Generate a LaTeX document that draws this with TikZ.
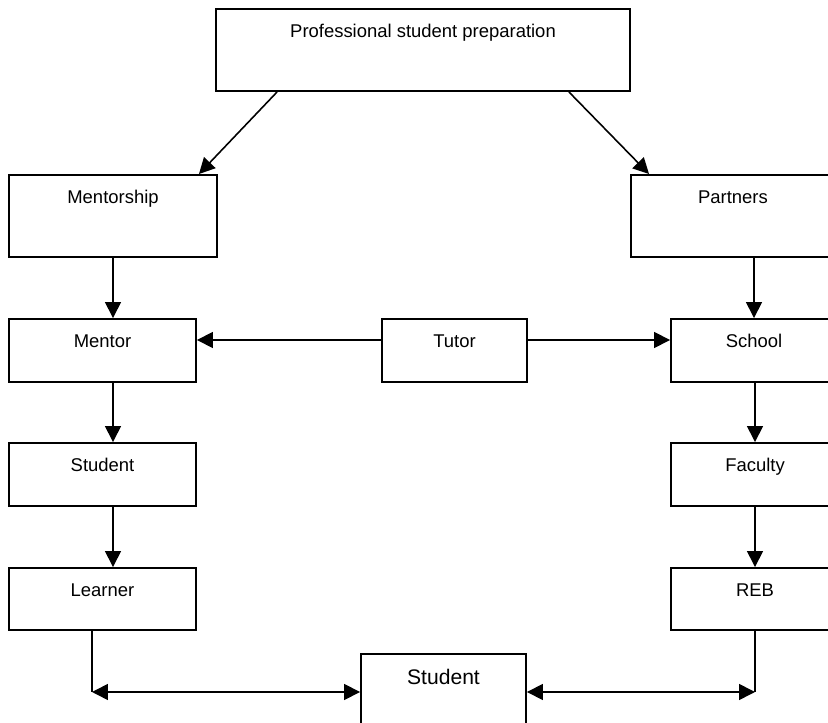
\documentclass[tikz,border=0pt]{standalone}
\usepackage{fontspec}
\setmainfont{Liberation Sans}
\usepackage{tikz}
\usetikzlibrary{arrows.meta, calc}
\tikzset{
	box/.style={draw, line width=1.1pt, inner sep=0pt, text height=0.58cm, font=\fontsize{10.5}{12}\selectfont},
	tallbox/.style={box, text depth=1.06cm},
	shortbox/.style={box, text depth=0.68cm},
	arrow/.style={line width=0.9pt, -{Triangle[length=9pt, width=9pt]}},
	biarrow/.style={line width=0.9pt, {Triangle[length=9pt, width=9pt]}-{Triangle[length=9pt, width=9pt]}},
	link/.style={line width=0.9pt},
}

\begin{document}
\begin{tikzpicture}[x=0.02cm, y=0.02cm]
% Frame
		\clip (0,0) rectangle (828,723);

% Top level
		\node[tallbox, minimum width=8.28cm] (prep) at (423,673) {Professional student preparation};
		\node[tallbox, minimum width=4.16cm] (mentorship) at (113,507) {Mentorship};
		\node[tallbox, minimum width=4.08cm] (partners) at (733,507) {Partners};

		\draw[arrow] ($(prep.south west)+(62,0)$) -- ($(mentorship.north east)+(-19,0)$);
		\draw[arrow] ($(prep.south east)+(-62,0)$) -- ($(partners.north west)+(19,0)$);

% Left column
		\node[shortbox, minimum width=3.74cm] (mentor) at (102.5,372.5) {Mentor};
		\node[shortbox, minimum width=3.74cm] (student) at (102.5,248.5) {Student};
		\node[shortbox, minimum width=3.74cm, text depth=0.66cm] (learner) at (102.5,124) {Learner};

		\draw[arrow] (mentorship.south) -- (mentorship.south |- mentor.north);
		\draw[arrow] ([xshift=2.1mm]mentor.south) -- ([xshift=2.1mm]student.north);
		\draw[arrow] ([xshift=2.1mm]student.south) -- ([xshift=2.1mm]learner.north);

% Middle
		\node[shortbox, minimum width=2.9cm] (tutor) at (454.5,372.5) {Tutor};

% Right column
		\node[shortbox, minimum width=3.32cm] (school) at (754,372.5) {School};
		\node[shortbox, minimum width=3.36cm] (faculty) at (755,248.5) {Faculty};
		\node[shortbox, minimum width=3.36cm, text depth=0.66cm] (reb) at (755,124) {REB};

		\draw[arrow] (school.north |- partners.south) -- (school.north);
		\draw[arrow] (school.south -| faculty.north) -- (faculty.north);
		\draw[arrow] (faculty.south) -- (reb.north);

		\draw[arrow] ([yshift=2.1mm]tutor.west) -- ([yshift=2.1mm]tutor.west -| mentor.east);
		\draw[arrow] ([yshift=2.1mm]tutor.east) -- ([yshift=2.1mm]tutor.east -| school.west);

% Bottom
		\node[box, minimum width=3.3cm, text height=0.62cm, text depth=1.02cm, font=\fontsize{12}{14}\selectfont] (student2) at (443.5,28) {Student};

		\coordinate (lb) at ([xshift=-2.1mm]learner.south);
		\coordinate (cl) at ([yshift=0.6mm]lb |- student2.west);
		\coordinate (cr) at ([yshift=0.6mm]reb.south |- student2.east);

		\draw[link] (lb) -- (cl);
		\draw[link] (reb.south) -- (cr);
		\draw[biarrow] (cl) -- (cl -| student2.west);
		\draw[biarrow] (cr -| student2.east) -- (cr);
	\end{tikzpicture}
\end{document}
